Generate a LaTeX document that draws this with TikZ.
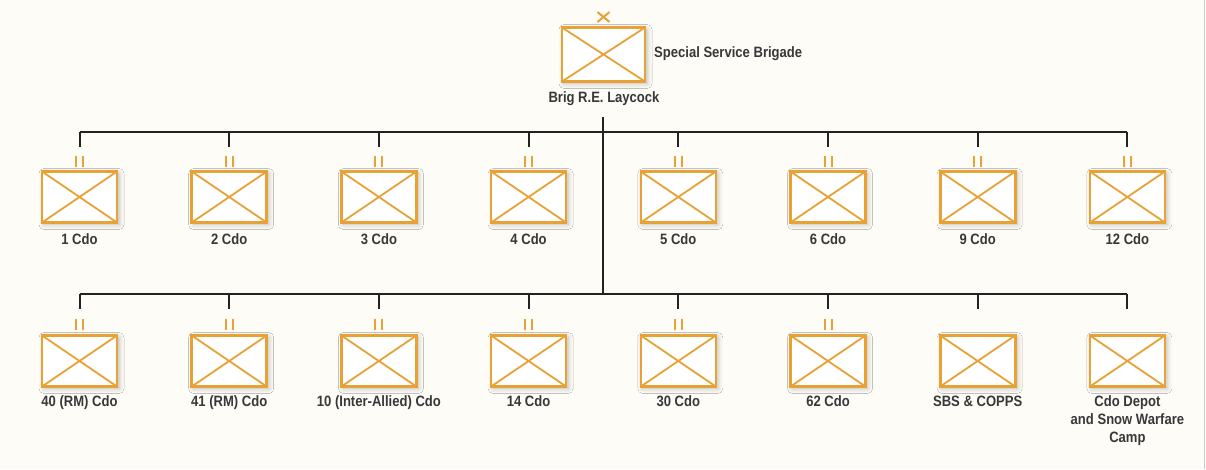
\documentclass[tikz,border=0pt]{standalone}
\usepackage{fontspec}
\setmainfont{Liberation Sans}[FakeStretch=0.87]
\usetikzlibrary{shadows.blur}
\definecolor{unitorange}{HTML}{E8A135}
\definecolor{txtgrey}{HTML}{383838}
\definecolor{bgcream}{HTML}{FDFCF7}
\definecolor{linegrey}{HTML}{222222}
\tikzset{
  unitbox/.style={draw=unitorange, line width=2.6pt, fill=white,
    minimum width=75pt, minimum height=51pt, inner sep=0pt,
    blur shadow={shadow xshift=2pt, shadow yshift=-2pt, shadow blur radius=5pt, shadow opacity=28},
    path picture={\draw[unitorange, line width=1.8pt]
      (path picture bounding box.north west) -- (path picture bounding box.south east)
      (path picture bounding box.south west) -- (path picture bounding box.north east);}},
  bigbox/.style={unitbox, minimum width=83pt, minimum height=54pt},
  lbl/.style={font=\fontsize{15}{18}\selectfont\bfseries, text=txtgrey, align=center, inner sep=0pt},
  conn/.style={draw=linegrey, line width=2pt},
  echelon/.style={draw=unitorange, line width=2pt},
}
\begin{document}
\begin{tikzpicture}[x=1pt,y=-1pt]
\useasboundingbox (0,0) rectangle (1206,469);
\fill[bgcream] (0,0) rectangle (1206,469);
\draw[gray!40, line width=1.5pt] (1204.5,0) -- (1204.5,469);

% top formation
\node[bigbox] (hq) at (603.5,54.5) {};
\node[lbl, anchor=west] (hqname) at (654,54) {Special Service Brigade};
\node[lbl] (hqcmd) at (604,99) {Brig R.E. Laycock};
\draw[echelon] (597.5,12) -- (609.5,22) (597.5,22) -- (609.5,12);

\coordinate (trunktop) at (603,117);
\coordinate (trunkbot) at (603,294);

% row 1
\foreach \i/\x/\t in {1/79.5/1 Cdo, 2/229.2/2 Cdo, 3/378.9/3 Cdo, 4/528.6/4 Cdo, 5/678.3/5 Cdo, 6/828/6 Cdo, 7/977.7/9 Cdo, 8/1127.4/12 Cdo}{
  \node[unitbox] (r1u\i) at (\x,197) {};
  \node[lbl, anchor=north] (r1l\i) at (\x,233.5) {\t};
  \coordinate (r1b\i) at (\x,132);
  \coordinate (r1d\i) at (\x,147);
  \draw[conn] (r1b\i) -- (r1d\i);
  \draw[echelon] (\x-3.5,156) -- (\x-3.5,167) (\x+3.5,156) -- (\x+3.5,167);
}
\draw[conn] (r1b1) -- (r1b8);

% row 2
\foreach \i/\x/\t/\e in {1/79.5/40 (RM) Cdo/1, 2/229.2/41 (RM) Cdo/1, 3/378.9/10 (Inter-Allied) Cdo/1, 4/528.6/14 Cdo/1, 5/678.3/30 Cdo/1, 6/828/62 Cdo/1, 7/977.7/SBS \& COPPS/0, 8/1127.4/{Cdo Depot\\and Snow Warfare\\Camp}/0}{
  \node[unitbox] (r2u\i) at (\x,361) {};
  \node[lbl, anchor=north] (r2l\i) at (\x,395.5) {\t};
  \coordinate (r2b\i) at (\x,294);
  \coordinate (r2d\i) at (\x,309);
  \draw[conn] (r2b\i) -- (r2d\i);
  \ifnum\e=1
    \draw[echelon] (\x-3.5,319) -- (\x-3.5,330) (\x+3.5,319) -- (\x+3.5,330);
  \fi
}
\draw[conn] (r2b1) -- (r2b8);

\draw[conn] (trunktop) -- (trunkbot);
\end{tikzpicture}
\end{document}
